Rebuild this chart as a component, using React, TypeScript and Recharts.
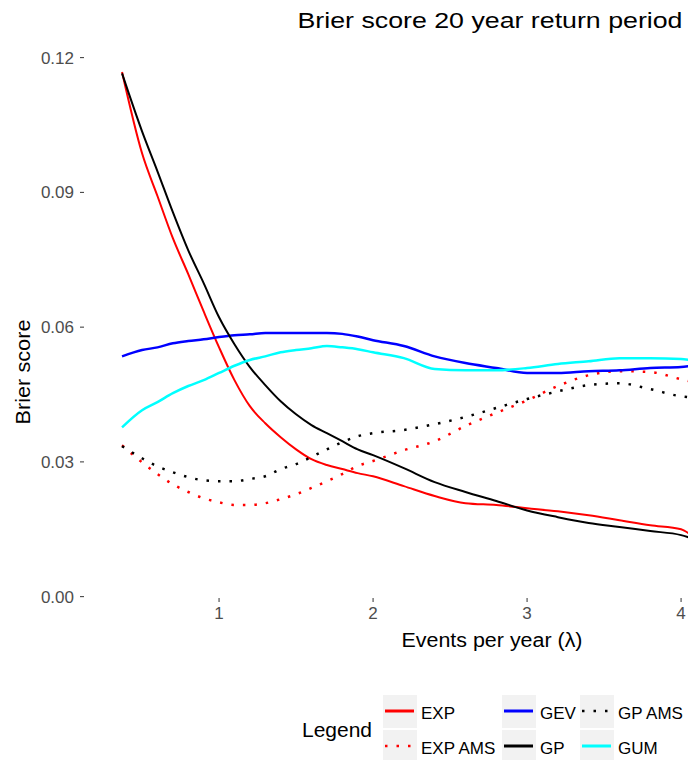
import { LineChart, Line, XAxis, YAxis, Label } from "recharts";

// events per year (lambda) at which the curves were read
const lambda = [
  0.37, 0.5, 0.6, 0.7, 0.8, 0.9, 1.0, 1.1, 1.2, 1.3, 1.4, 1.5, 1.6, 1.7, 1.8, 1.9, 2.0,
  2.2, 2.4, 2.6, 2.8, 3.0, 3.2, 3.4, 3.6, 3.8, 4.0, 4.05,
];

const expScore = [
  0.1168, 0.0987, 0.0892, 0.0798, 0.0718, 0.0635, 0.0555, 0.0482, 0.0424, 0.0386, 0.0355,
  0.0328, 0.0306, 0.0293, 0.0284, 0.0275, 0.0268, 0.0246, 0.0224, 0.0208, 0.0204, 0.0197,
  0.019, 0.0181, 0.017, 0.0159, 0.015, 0.0141,
];
const expAmsScore = [
  0.0337, 0.0299, 0.0273, 0.025, 0.0233, 0.0219, 0.021, 0.0204, 0.0204, 0.0208, 0.0217,
  0.0228, 0.0242, 0.0257, 0.0273, 0.0291, 0.0302, 0.0326, 0.0346, 0.038, 0.0409, 0.0437,
  0.0469, 0.0493, 0.0502, 0.05, 0.0484, 0.048,
];
const gevScore = [
  0.0535, 0.0549, 0.0555, 0.0564, 0.0569, 0.0573, 0.0578, 0.0582, 0.0584, 0.0587, 0.0587,
  0.0587, 0.0587, 0.0587, 0.0585, 0.0579, 0.0571, 0.0558, 0.0535, 0.052, 0.0509, 0.0498,
  0.0498, 0.0502, 0.0504, 0.0509, 0.0511, 0.0513,
];
const gpScore = [
  0.1165, 0.1036, 0.0947, 0.0856, 0.0771, 0.0698, 0.0622, 0.0562, 0.0511, 0.0471, 0.0435,
  0.0406, 0.0382, 0.0364, 0.0346, 0.0328, 0.0315, 0.0286, 0.0255, 0.0233, 0.0213, 0.0192,
  0.0177, 0.0164, 0.0155, 0.0146, 0.0137, 0.0132,
];
const gpAmsScore = [
  0.0335, 0.0308, 0.029, 0.0277, 0.0266, 0.0259, 0.0257, 0.0257, 0.0262, 0.0268, 0.0284,
  0.0295, 0.0311, 0.0328, 0.0344, 0.0357, 0.0364, 0.0371, 0.0384, 0.04, 0.042, 0.044,
  0.0457, 0.0471, 0.0475, 0.0462, 0.0446, 0.0444,
];
const gumScore = [
  0.0377, 0.0415, 0.0433, 0.0453, 0.0469, 0.0482, 0.0498, 0.0514, 0.0527, 0.0535, 0.0544,
  0.0549, 0.0553, 0.0558, 0.0555, 0.0551, 0.0544, 0.0531, 0.0507, 0.0504, 0.0504, 0.0509,
  0.0518, 0.0524, 0.0531, 0.0531, 0.0529, 0.0527,
];

const yTicks = [0, 0.03, 0.06, 0.09, 0.12];
const xTicks = [1, 2, 3, 4];

const series = [
  { key: "EXP", color: "#ff0000", dashed: false, width: 2 },
  { key: "EXP AMS", color: "#ff0000", dashed: true, width: 2.5 },
  { key: "GEV", color: "#0000ff", dashed: false, width: 2.5 },
  { key: "GP", color: "#000000", dashed: false, width: 2 },
  { key: "GP AMS", color: "#000000", dashed: true, width: 2.5 },
  { key: "GUM", color: "#00ffff", dashed: false, width: 2.5 },
];

const data = lambda.map((x, i) => ({
  lambda: x,
  EXP: expScore[i],
  "EXP AMS": expAmsScore[i],
  GEV: gevScore[i],
  GP: gpScore[i],
  "GP AMS": gpAmsScore[i],
  GUM: gumScore[i],
}));

const FONT = '"Liberation Sans", Arial, sans-serif';
const DOTS = "2.5 9";

function ChartLegend() {
  // 3 columns, 2 rows, filled column by column like ggplot
  const colX = [383, 502, 580];
  const rowY = [695, 730];
  return (
    <svg
      width={688}
      height={760}
      style={{ position: "absolute", left: 0, top: 0, pointerEvents: "none" }}
    >
      <text
        x={490}
        y={28}
        textAnchor="middle"
        fontFamily={FONT}
        fontSize={22}
        textLength={385}
        lengthAdjust="spacingAndGlyphs"
        fill="#000"
      >
        Brier score 20 year return period
      </text>
      <text x={302} y={737} fontFamily={FONT} fontSize={20} textLength={70} lengthAdjust="spacingAndGlyphs">
        Legend
      </text>
      {series.map((s, i) => {
        const bx = colX[Math.floor(i / 2)];
        const by = rowY[i % 2];
        return (
          <g key={s.key}>
            <rect x={bx} y={by} width={34} height={33} fill="#f2f2f2" />
            <line
              x1={bx + 2}
              x2={bx + 31}
              y1={by + 16}
              y2={by + 16}
              stroke={s.color}
              strokeWidth={s.dashed ? 2.5 : 3}
              strokeDasharray={s.dashed ? DOTS : undefined}
            />
            <text x={bx + 38} y={by + 24} fontFamily={FONT} fontSize={17} fill="#000">
              {s.key}
            </text>
          </g>
        );
      })}
    </svg>
  );
}

export default function App() {
  return (
    <div
      style={{
        position: "fixed",
        left: 0,
        top: 0,
        width: 688,
        height: 760,
        overflow: "hidden",
        background: "#fff",
      }}
    >
      <LineChart width={688} height={760} data={data} margin={{ top: 50, right: 0, bottom: 0, left: 0 }}>
        <XAxis
          dataKey="lambda"
          type="number"
          domain={[0.123, 4.045]}
          allowDataOverflow
          ticks={xTicks}
          height={162}
          axisLine={false}
          tickSize={4}
          tickMargin={5}
          tickLine={{ stroke: "#333333" }}
          tick={{ fontSize: 17, fill: "#4d4d4d", fontFamily: FONT }}
        >
          <Label
            content={({ viewBox }: any) => (
              <text
                x={492}
                y={viewBox.y + 49}
                textAnchor="middle"
                fontFamily={FONT}
                fontSize={20}
                textLength={181}
                lengthAdjust="spacingAndGlyphs"
                fill="#000"
              >
                Events per year (λ)
              </text>
            )}
          />
        </XAxis>
        <YAxis
          type="number"
          domain={[-0.0003, 0.1217]}
          allowDataOverflow
          ticks={yTicks}
          width={84}
          axisLine={false}
          tickSize={4}
          tickMargin={6}
          tickLine={{ stroke: "#333333" }}
          tickFormatter={(v: number) => v.toFixed(2)}
          tick={{ fontSize: 17, fill: "#4d4d4d", fontFamily: FONT }}
        >
          <Label
            content={({ viewBox }: any) => (
              <text
                x={30}
                y={viewBox.y + viewBox.height / 2 + 48}
                transform={`rotate(-90, 30, ${viewBox.y + viewBox.height / 2 + 48})`}
                textAnchor="middle"
                fontFamily={FONT}
                fontSize={20}
                textLength={105}
                lengthAdjust="spacingAndGlyphs"
                fill="#000"
              >
                Brier score
              </text>
            )}
          />
        </YAxis>
        {series.map((s) => (
          <Line
            key={s.key}
            dataKey={s.key}
            type="monotone"
            stroke={s.color}
            strokeWidth={s.width}
            strokeDasharray={s.dashed ? DOTS : undefined}
            dot={false}
            activeDot={false}
            isAnimationActive={false}
          />
        ))}
      </LineChart>
      <ChartLegend />
    </div>
  );
}
